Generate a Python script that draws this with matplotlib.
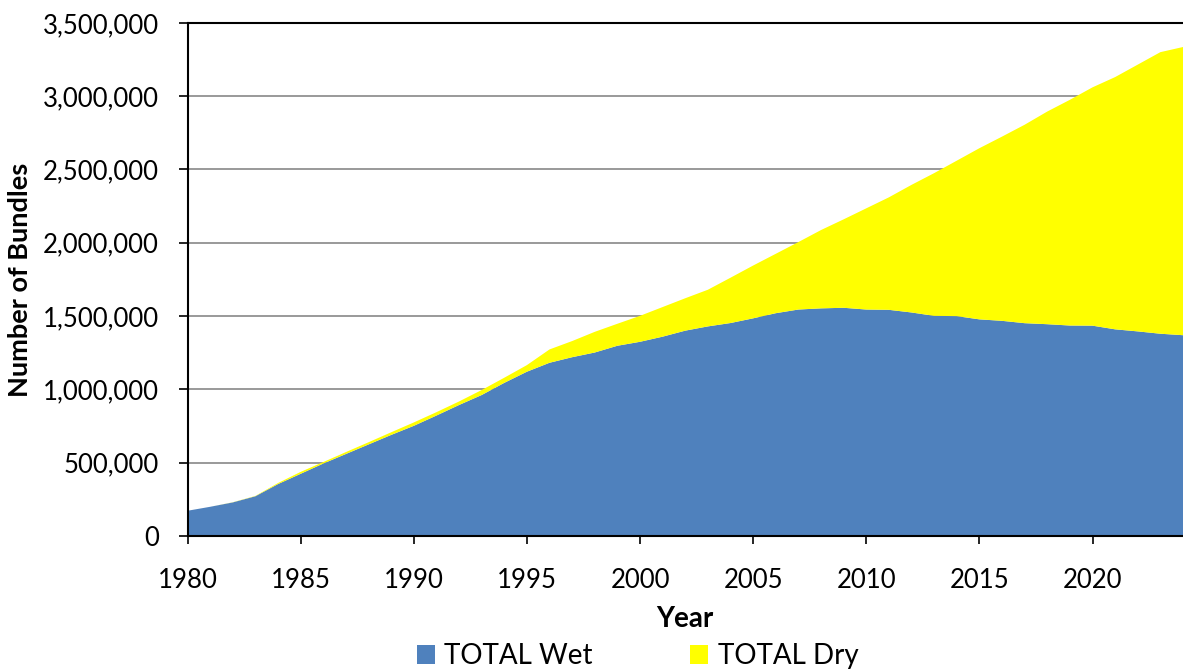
import matplotlib
matplotlib.use("Agg")
import matplotlib.pyplot as plt
from matplotlib.patches import Patch
from matplotlib.ticker import FuncFormatter
import numpy as np

years = list(range(1980, 2025))
wet = [173000, 200000, 230000, 272000, 355000, 425000, 495000, 560000, 625000, 690000,
       752000, 822000, 894000, 962000, 1045000, 1121000, 1182000, 1220000, 1252000, 1298000,
       1325000, 1360000, 1401000, 1430000, 1453000, 1485000, 1520000, 1545000, 1553000, 1557000,
       1545000, 1543000, 1525000, 1502000, 1500000, 1478000, 1468000, 1452000, 1445000, 1436000,
       1435000, 1410000, 1396000, 1380000, 1370000]
total = [173000, 200000, 231000, 274000, 362000, 438000, 505000, 573000, 640000, 708000,
         775000, 845000, 918000, 996000, 1080000, 1166000, 1273000, 1330000, 1393000, 1448000,
         1502000, 1562000, 1622000, 1680000, 1762000, 1845000, 1925000, 2005000, 2087000, 2160000,
         2235000, 2310000, 2395000, 2475000, 2560000, 2645000, 2724000, 2805000, 2895000, 2975000,
         3060000, 3130000, 3215000, 3300000, 3335000]
dry = [t - w for t, w in zip(total, wet)]

series_names = ["TOTAL Wet", "TOTAL Dry"]
colors = ["#4F81BD", "#FFFF00"]

plt.rcParams['font.family'] = ['Lato', 'DejaVu Sans']

fig = plt.figure(figsize=(11.83, 6.71), dpi=100)
ax = fig.add_axes([0.1585, 0.201, 0.8415, 0.765])

ax.stackplot(years, wet, dry, colors=colors, linewidth=0)

ax.set_xlim(1980, 2024)
ax.set_ylim(0, 3500000)
ax.set_xticks(list(range(1980, 2021, 5)))
ax.set_yticks(np.arange(0, 3500001, 500000))
ax.yaxis.set_major_formatter(FuncFormatter(lambda v, p: f"{int(v):,}"))
ax.grid(axis='y', color='#888888', linewidth=1.2)
ax.set_axisbelow(True)

for s in ['left', 'bottom', 'top']:
    ax.spines[s].set_color('black')
    ax.spines[s].set_linewidth(1.5)
    ax.spines[s].set_zorder(5)
ax.spines['right'].set_visible(False)
ax.tick_params(axis='both', direction='out', width=1.2, labelsize=18.5, colors='black')
ax.tick_params(axis='y', length=6.5, pad=14)
ax.tick_params(axis='x', length=6, pad=17)

ax.set_xlabel("Year", fontsize=20, fontweight='bold', labelpad=9)
ax.set_ylabel("Number of Bundles", fontsize=19.5, fontweight='bold', labelpad=8)

handles = [Patch(facecolor=c, edgecolor='none') for c in colors]
fig.legend(handles, series_names, loc='center', bbox_to_anchor=(0.539, 0.022), ncol=2,
           frameon=False, fontsize=20, handlelength=0.65, handleheight=0.65,
           handletextpad=0.35, columnspacing=3.5, borderpad=0, borderaxespad=0)

fig.savefig("out.png", dpi=100)
